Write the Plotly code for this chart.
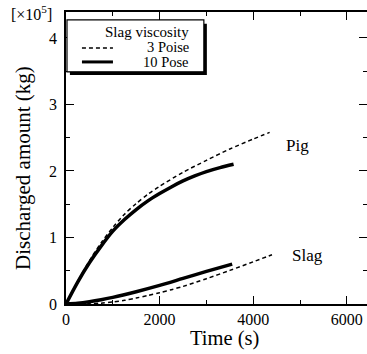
import plotly.graph_objects as go

# Pig, 3 Poise (dashed)
pig3_t = [0, 250, 500, 750, 1000, 1250, 1500, 1750, 2000, 2500, 3000, 3500, 4000, 4350]
pig3_v = [0, 0.34, 0.65, 0.92, 1.15, 1.35, 1.51, 1.65, 1.77, 1.98, 2.16, 2.33, 2.48, 2.58]
# Pig, 10 Poise (solid)
pig10_t = [0, 250, 500, 750, 1000, 1250, 1500, 1750, 2000, 2250, 2500, 2750, 3000, 3290, 3580]
pig10_v = [0, 0.33, 0.62, 0.87, 1.095, 1.27, 1.42, 1.55, 1.66, 1.76, 1.85, 1.925, 1.99, 2.05, 2.1]
# Slag, 3 Poise (dashed)
slag3_t = [0, 250, 500, 750, 1000, 1250, 1500, 1750, 2000, 2250, 2500, 3000, 3500, 4000, 4400]
slag3_v = [0, 0.001, 0.005, 0.013, 0.03, 0.055, 0.09, 0.128, 0.17, 0.215, 0.265, 0.38, 0.505, 0.635, 0.74]
# Slag, 10 Poise (solid)
slag10_t = [0, 250, 500, 750, 1000, 1500, 2000, 2500, 3000, 3550]
slag10_v = [0, 0.012, 0.035, 0.065, 0.1, 0.185, 0.28, 0.385, 0.49, 0.6]

x_ticks = [0, 2000, 4000, 6000]
y_ticks = [0, 1, 2, 3, 4]

legend_title = "Slag viscosity"
legend_labels = ["3 Poise", "10 Pose"]

FONT = "Liberation Serif"
DASH = "4px,3px"

fig = go.Figure()
fig.add_trace(go.Scatter(x=pig3_t, y=pig3_v, mode="lines",
                         line=dict(color="black", width=1.5, dash=DASH, shape="spline", smoothing=0.8),
                         name=legend_labels[0]))
fig.add_trace(go.Scatter(x=pig10_t, y=pig10_v, mode="lines",
                         line=dict(color="black", width=3.5, shape="spline", smoothing=0.8),
                         name=legend_labels[1]))
fig.add_trace(go.Scatter(x=slag3_t, y=slag3_v, mode="lines",
                         line=dict(color="black", width=1.5, dash=DASH, shape="spline", smoothing=0.8),
                         name=legend_labels[0]))
fig.add_trace(go.Scatter(x=slag10_t, y=slag10_v, mode="lines",
                         line=dict(color="black", width=3.5, shape="spline", smoothing=0.8),
                         name=legend_labels[1]))

fig.add_annotation(x=4950, y=2.39, text="Pig", showarrow=False, xanchor="center", yanchor="middle",
                   font=dict(family=FONT, size=17, color="black"))
fig.add_annotation(x=5150, y=0.73, text="Slag", showarrow=False, xanchor="center", yanchor="middle",
                   font=dict(family=FONT, size=17, color="black"))
fig.add_annotation(xref="paper", yref="paper", x=-0.04, y=0.997, text="[×10<sup>5</sup>]", showarrow=False,
                   xanchor="right", yanchor="middle", font=dict(family=FONT, size=16, color="black"))

# axis titles
fig.add_annotation(xref="paper", yref="paper", x=-0.143, y=0.466, text="Discharged amount (kg)",
                   textangle=-90, showarrow=False, xanchor="center", yanchor="middle",
                   font=dict(family=FONT, size=21, color="black"))
fig.add_annotation(xref="paper", yref="paper", x=0.528, y=-0.118, text="Time (s)",
                   showarrow=False, xanchor="center", yanchor="middle",
                   font=dict(family=FONT, size=20.5, color="black"))

# custom legend: shadow, box, title, samples, labels
fig.add_shape(type="rect", xref="paper", yref="paper", x0=0.013, x1=0.468, y0=0.784, y1=0.96,
              fillcolor="black", line=dict(width=0), layer="above")
fig.add_shape(type="rect", xref="paper", yref="paper", x0=0.0033, x1=0.458, y0=0.795, y1=0.973,
              fillcolor="white", line=dict(color="black", width=1.2), layer="above")
fig.add_annotation(xref="paper", yref="paper", x=0.415, y=0.93, text=legend_title, showarrow=False,
                   xanchor="right", yanchor="middle", font=dict(family=FONT, size=15, color="black"))
fig.add_shape(type="line", xref="paper", yref="paper", x0=0.053, x1=0.156, y0=0.877, y1=0.877,
              line=dict(color="black", width=1.5, dash=DASH), layer="above")
fig.add_shape(type="line", xref="paper", yref="paper", x0=0.053, x1=0.156, y0=0.829, y1=0.829,
              line=dict(color="black", width=3), layer="above")
fig.add_annotation(xref="paper", yref="paper", x=0.415, y=0.879, text=legend_labels[0], showarrow=False,
                   xanchor="right", yanchor="middle", font=dict(family=FONT, size=14.5, color="black"))
fig.add_annotation(xref="paper", yref="paper", x=0.415, y=0.828, text=legend_labels[1], showarrow=False,
                   xanchor="right", yanchor="middle", font=dict(family=FONT, size=14.5, color="black"))

axis_common = dict(showline=True, linecolor="black", linewidth=1.5, mirror="ticks", ticks="inside",
                   tickcolor="black", tickwidth=1.2, ticklen=8, showgrid=False, zeroline=False,
                   automargin=False, tickfont=dict(family=FONT, size=16, color="black"))

fig.update_layout(
    width=367, height=354,
    margin=dict(l=66, r=0, t=12, b=50),
    paper_bgcolor="white", plot_bgcolor="white",
    showlegend=False,
    xaxis=dict(axis_common, range=[0, 6430], tickvals=x_ticks, ticktext=[str(v) for v in x_ticks],
               minor=dict(dtick=1000, tick0=0, ticks="inside", ticklen=4, tickcolor="black")),
    yaxis=dict(axis_common, range=[0, 4.39], tickvals=y_ticks, ticktext=[str(v) for v in y_ticks],
               ticklabelstandoff=4,
               minor=dict(dtick=0.5, tick0=0, ticks="inside", ticklen=4, tickcolor="black")),
)

fig.write_html("out.html", config={"displayModeBar": False},
               post_script="document.body.style.margin='0';document.body.style.overflow='hidden';")
